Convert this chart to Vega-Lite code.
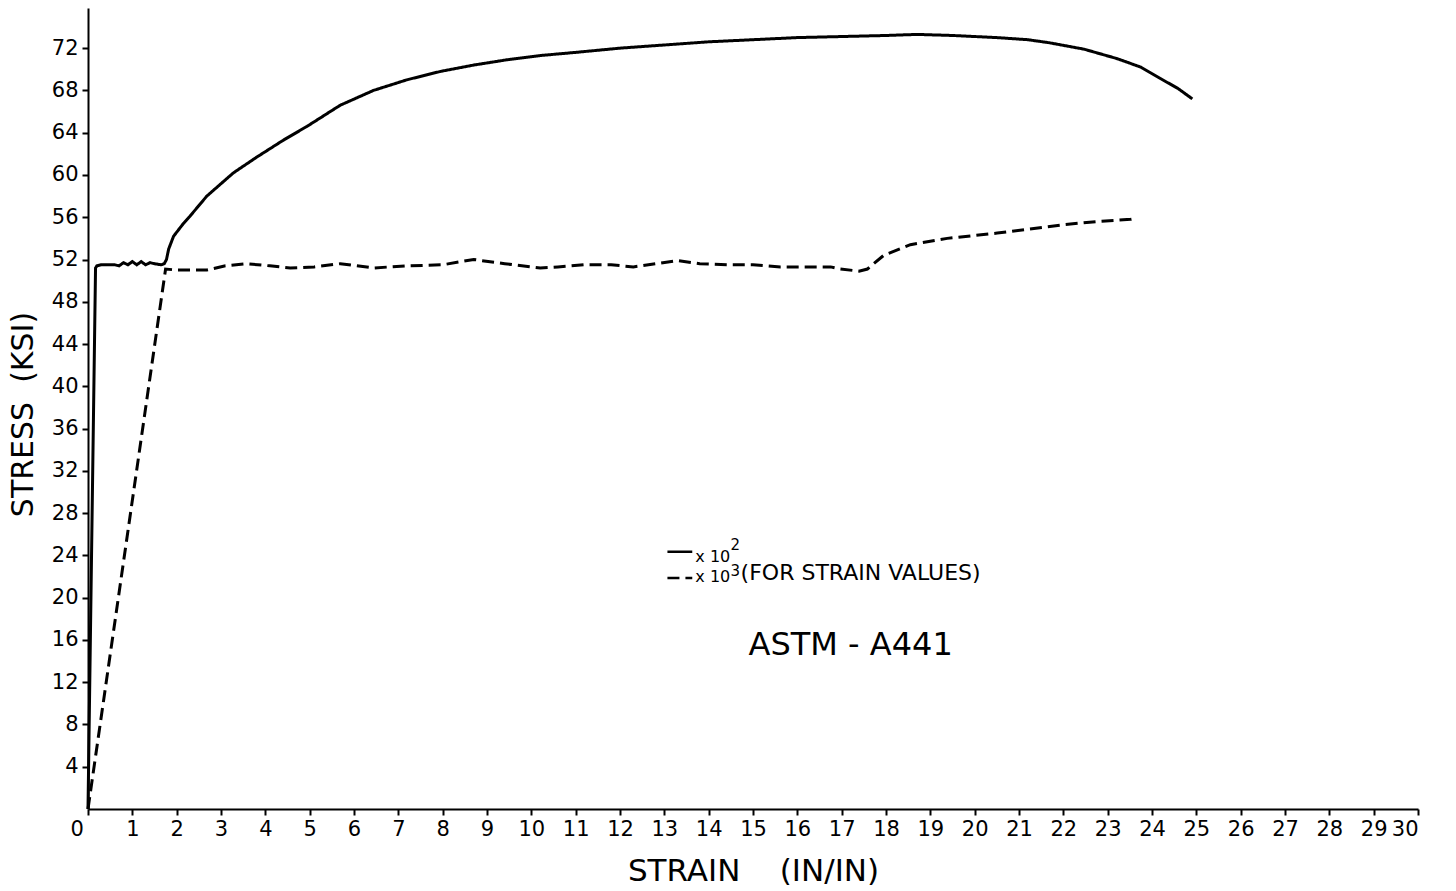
{
  "$schema": "https://vega.github.io/schema/vega-lite/v6.json",
  "width": 1330,
  "height": 801,
  "autosize": {"type": "none"},
  "padding": {"left": 88, "top": 8, "right": 38, "bottom": 82},
  "background": "white",
  "config": {
    "view": {"stroke": null},
    "font": "DejaVu Sans",
    "axis": {"domainColor": "black", "domainWidth": 2, "tickColor": "black", "tickWidth": 2, "labelColor": "black", "titleColor": "black", "labelFont": "DejaVu Sans", "titleFont": "DejaVu Sans", "titleFontWeight": "normal", "grid": false}
  },
  "datasets": {
    "curves": [
      {"series": "x10^2", "strain": 0, "stress": 0},
      {"series": "x10^2", "strain": 0.17, "stress": 51.2},
      {"series": "x10^2", "strain": 0.2, "stress": 51.4},
      {"series": "x10^2", "strain": 0.3, "stress": 51.5},
      {"series": "x10^2", "strain": 0.45, "stress": 51.5},
      {"series": "x10^2", "strain": 0.6, "stress": 51.5},
      {"series": "x10^2", "strain": 0.7, "stress": 51.4},
      {"series": "x10^2", "strain": 0.8, "stress": 51.7},
      {"series": "x10^2", "strain": 0.9, "stress": 51.5},
      {"series": "x10^2", "strain": 1.0, "stress": 51.8},
      {"series": "x10^2", "strain": 1.1, "stress": 51.5},
      {"series": "x10^2", "strain": 1.2, "stress": 51.8},
      {"series": "x10^2", "strain": 1.3, "stress": 51.5},
      {"series": "x10^2", "strain": 1.4, "stress": 51.7},
      {"series": "x10^2", "strain": 1.5, "stress": 51.6},
      {"series": "x10^2", "strain": 1.65, "stress": 51.5},
      {"series": "x10^2", "strain": 1.72, "stress": 51.6},
      {"series": "x10^2", "strain": 1.77, "stress": 52.0},
      {"series": "x10^2", "strain": 1.82, "stress": 53.0},
      {"series": "x10^2", "strain": 1.93, "stress": 54.2},
      {"series": "x10^2", "strain": 2.15, "stress": 55.4},
      {"series": "x10^2", "strain": 2.3, "stress": 56.1},
      {"series": "x10^2", "strain": 2.68, "stress": 58.0},
      {"series": "x10^2", "strain": 3.28, "stress": 60.2},
      {"series": "x10^2", "strain": 3.81, "stress": 61.7},
      {"series": "x10^2", "strain": 4.41, "stress": 63.3},
      {"series": "x10^2", "strain": 4.94, "stress": 64.6},
      {"series": "x10^2", "strain": 5.69, "stress": 66.6},
      {"series": "x10^2", "strain": 6.44, "stress": 68.0},
      {"series": "x10^2", "strain": 7.19, "stress": 69.0},
      {"series": "x10^2", "strain": 7.95, "stress": 69.8},
      {"series": "x10^2", "strain": 8.7, "stress": 70.4},
      {"series": "x10^2", "strain": 9.45, "stress": 70.9},
      {"series": "x10^2", "strain": 10.2, "stress": 71.3},
      {"series": "x10^2", "strain": 11.0, "stress": 71.6},
      {"series": "x10^2", "strain": 12.0, "stress": 72.0},
      {"series": "x10^2", "strain": 13.0, "stress": 72.3},
      {"series": "x10^2", "strain": 14.0, "stress": 72.6},
      {"series": "x10^2", "strain": 15.0, "stress": 72.8},
      {"series": "x10^2", "strain": 16.0, "stress": 73.0},
      {"series": "x10^2", "strain": 17.0, "stress": 73.1},
      {"series": "x10^2", "strain": 18.0, "stress": 73.2},
      {"series": "x10^2", "strain": 18.7, "stress": 73.3},
      {"series": "x10^2", "strain": 19.5, "stress": 73.2},
      {"series": "x10^2", "strain": 20.5, "stress": 73.0},
      {"series": "x10^2", "strain": 21.2, "stress": 72.8},
      {"series": "x10^2", "strain": 21.7, "stress": 72.5},
      {"series": "x10^2", "strain": 22.47, "stress": 71.9},
      {"series": "x10^2", "strain": 23.22, "stress": 71.0},
      {"series": "x10^2", "strain": 23.75, "stress": 70.2},
      {"series": "x10^2", "strain": 24.2, "stress": 69.1},
      {"series": "x10^2", "strain": 24.58, "stress": 68.2},
      {"series": "x10^2", "strain": 24.91, "stress": 67.2},
      {"series": "x10^3", "strain": 0, "stress": 0},
      {"series": "x10^3", "strain": 1.75, "stress": 51.1},
      {"series": "x10^3", "strain": 2.0, "stress": 51.0},
      {"series": "x10^3", "strain": 2.68, "stress": 51.0},
      {"series": "x10^3", "strain": 3.1, "stress": 51.4},
      {"series": "x10^3", "strain": 3.58, "stress": 51.6},
      {"series": "x10^3", "strain": 4.1, "stress": 51.4},
      {"series": "x10^3", "strain": 4.56, "stress": 51.2},
      {"series": "x10^3", "strain": 5.1, "stress": 51.3},
      {"series": "x10^3", "strain": 5.69, "stress": 51.6},
      {"series": "x10^3", "strain": 6.44, "stress": 51.2},
      {"series": "x10^3", "strain": 7.2, "stress": 51.4},
      {"series": "x10^3", "strain": 8.0, "stress": 51.5},
      {"series": "x10^3", "strain": 8.7, "stress": 52.0},
      {"series": "x10^3", "strain": 9.4, "stress": 51.6},
      {"series": "x10^3", "strain": 10.2, "stress": 51.2},
      {"series": "x10^3", "strain": 10.6, "stress": 51.3},
      {"series": "x10^3", "strain": 11.2, "stress": 51.5},
      {"series": "x10^3", "strain": 11.8, "stress": 51.5},
      {"series": "x10^3", "strain": 12.3, "stress": 51.3},
      {"series": "x10^3", "strain": 12.8, "stress": 51.6},
      {"series": "x10^3", "strain": 13.3, "stress": 51.9},
      {"series": "x10^3", "strain": 13.8, "stress": 51.6},
      {"series": "x10^3", "strain": 14.5, "stress": 51.5},
      {"series": "x10^3", "strain": 15.0, "stress": 51.5},
      {"series": "x10^3", "strain": 15.62, "stress": 51.3},
      {"series": "x10^3", "strain": 16.3, "stress": 51.3},
      {"series": "x10^3", "strain": 16.75, "stress": 51.3},
      {"series": "x10^3", "strain": 16.97, "stress": 51.1},
      {"series": "x10^3", "strain": 17.39, "stress": 50.9},
      {"series": "x10^3", "strain": 17.58, "stress": 51.1},
      {"series": "x10^3", "strain": 17.95, "stress": 52.4},
      {"series": "x10^3", "strain": 18.55, "stress": 53.4},
      {"series": "x10^3", "strain": 19.38, "stress": 54.0},
      {"series": "x10^3", "strain": 20.51, "stress": 54.5},
      {"series": "x10^3", "strain": 22.02, "stress": 55.3},
      {"series": "x10^3", "strain": 22.77, "stress": 55.6},
      {"series": "x10^3", "strain": 23.52, "stress": 55.8},
      {"series": "x10^3", "strain": 23.65, "stress": 55.9}
    ],
    "keys": [
      {"series": "x10^2", "x": 13.07, "x2": 13.63, "y": 24.35},
      {"series": "x10^3", "x": 13.07, "x2": 13.63, "y": 21.86}
    ],
    "notes": [
      {"role": "mult", "x": 13.7, "y": 23.85, "text": "x 10"},
      {"role": "mult", "x": 13.7, "y": 21.96, "text": "x 10"},
      {"role": "sup", "x": 14.49, "y": 25.0, "text": "2"},
      {"role": "sup", "x": 14.49, "y": 22.5, "text": "3"},
      {"role": "note", "x": 14.72, "y": 22.3, "text": "(FOR STRAIN VALUES)"},
      {"role": "name", "x": 14.9, "y": 15.5, "text": "ASTM - A441"}
    ]
  },
  "layer": [
    {
      "data": {"name": "curves"},
      "mark": {"type": "line", "color": "black", "strokeWidth": 3, "interpolate": "linear"},
      "encoding": {
        "x": {
          "field": "strain", "type": "quantitative",
          "scale": {"domain": [0, 30], "nice": false, "zero": false},
          "axis": {
            "values": [0,1,2,3,4,5,6,7,8,9,10,11,12,13,14,15,16,17,18,19,20,21,22,23,24,25,26,27,28,29,30],
            "labelFontSize": 21, "tickSize": 6, "labelPadding": 3,
            "labelOffset": {"condition": {"test": "datum.value == 0", "value": -18}, "value": 0},
            "title": "STRAIN\u00a0\u00a0\u00a0\u00a0(IN/IN)", "titleFontSize": 31, "titleBaseline": "alphabetic", "titleY": 71
          }
        },
        "y": {
          "field": "stress", "type": "quantitative",
          "scale": {"domain": [0, 75.8], "nice": false},
          "axis": {
            "values": [4,8,12,16,20,24,28,32,36,40,44,48,52,56,60,64,68,72],
            "labelFontSize": 21, "tickSize": 6, "labelPadding": 4,
            "title": "STRESS\u00a0\u00a0(KSI)", "titleFontSize": 30, "titleAngle": -90, "titleBaseline": "alphabetic", "titleX": -56, "titleY": 406, "titleAlign": "center"
          }
        },
        "detail": {"field": "series"},
        "strokeDash": {"field": "series", "type": "nominal", "scale": {"domain": ["x10^2", "x10^3"], "range": [[1, 0], [12, 6]]}, "legend": null}
      }
    },
    {
      "data": {"name": "keys"},
      "mark": {"type": "rule", "color": "black", "strokeWidth": 2.5},
      "encoding": {
        "x": {"field": "x", "type": "quantitative"},
        "x2": {"field": "x2"},
        "y": {"field": "y", "type": "quantitative"},
        "strokeDash": {"field": "series", "type": "nominal", "scale": {"domain": ["x10^2", "x10^3"], "range": [[1, 0], [6, 3]]}, "legend": null}
      }
    },
    {
      "data": {"name": "notes"},
      "transform": [{"filter": "datum.role == 'mult'"}],
      "mark": {"type": "text", "align": "left", "baseline": "middle", "fontSize": 16, "color": "black"},
      "encoding": {"x": {"field": "x", "type": "quantitative"}, "y": {"field": "y", "type": "quantitative"}, "text": {"field": "text"}}
    },
    {
      "data": {"name": "notes"},
      "transform": [{"filter": "datum.role == 'sup'"}],
      "mark": {"type": "text", "align": "left", "baseline": "middle", "fontSize": 15, "color": "black"},
      "encoding": {"x": {"field": "x", "type": "quantitative"}, "y": {"field": "y", "type": "quantitative"}, "text": {"field": "text"}}
    },
    {
      "data": {"name": "notes"},
      "transform": [{"filter": "datum.role == 'note'"}],
      "mark": {"type": "text", "align": "left", "baseline": "middle", "fontSize": 22, "color": "black"},
      "encoding": {"x": {"field": "x", "type": "quantitative"}, "y": {"field": "y", "type": "quantitative"}, "text": {"field": "text"}}
    },
    {
      "data": {"name": "notes"},
      "transform": [{"filter": "datum.role == 'name'"}],
      "mark": {"type": "text", "align": "left", "baseline": "middle", "fontSize": 32, "color": "black"},
      "encoding": {"x": {"field": "x", "type": "quantitative"}, "y": {"field": "y", "type": "quantitative"}, "text": {"field": "text"}}
    }
  ]
}
